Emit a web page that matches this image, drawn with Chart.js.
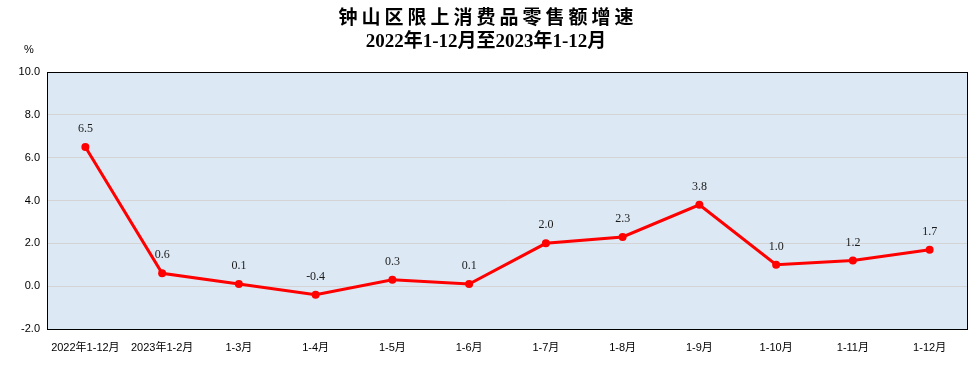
<!DOCTYPE html>
<html lang="zh">
<head>
    <meta charset="UTF-8">
    <title>钟山区限上消费品零售额增速</title>
    <script src="https://cdn.jsdelivr.net/npm/chart.js"></script>
    <style>
        html, body { margin: 0; padding: 0; background: #ffffff; }
        .chart-box { width: 972px; height: 365px; position: relative; }
    </style>
</head>
<body>
    <div class="chart-box">
        <canvas id="growthChart"></canvas>
    </div>

    <script>
        // data
        const periods = ['2022年1-12月', '2023年1-2月', '1-3月', '1-4月', '1-5月', '1-6月',
                         '1-7月', '1-8月', '1-9月', '1-10月', '1-11月', '1-12月'];
        const growthRate = [6.5, 0.6, 0.1, -0.4, 0.3, 0.1, 2.0, 2.3, 3.8, 1.0, 1.2, 1.7];
        const titleLines = ['钟山区限上消费品零售额增速', '2022年1-12月至2023年1-12月'];
        const yUnit = '%';

        const cjkSerif = '"Liberation Serif", "Noto Sans CJK SC", serif';
        const axisFont = '"Liberation Sans", "Noto Sans CJK SC", sans-serif';

        // background of the plot, title, unit, border and value labels
        const decorPlugin = {
            id: 'decor',
            beforeDraw(chart) {
                const { ctx, chartArea: a } = chart;
                ctx.save();
                ctx.fillStyle = '#dce8f4';
                ctx.fillRect(a.left, a.top, a.right - a.left, a.bottom - a.top);
                ctx.restore();
            },
            afterDraw(chart) {
                const { ctx, chartArea: a } = chart;
                ctx.save();
                ctx.strokeStyle = '#000';
                ctx.lineWidth = 1;
                ctx.strokeRect(a.left + 0.5, a.top + 0.5, a.right - a.left - 1, a.bottom - a.top);

                ctx.fillStyle = '#000';
                ctx.textAlign = 'center';
                ctx.textBaseline = 'middle';
                ctx.font = 'bold 19px ' + cjkSerif;
                ctx.letterSpacing = '4px';
                ctx.fillText(titleLines[0], 488, 19);
                ctx.letterSpacing = '0px';
                ctx.fillText(titleLines[1], 486, 42);

                ctx.font = '11px ' + axisFont;
                ctx.fillText(yUnit, 29, 50);

                // value labels
                const meta = chart.getDatasetMeta(0);
                ctx.font = '12px ' + cjkSerif;
                ctx.fillStyle = '#1a1a1a';
                meta.data.forEach((pt, i) => {
                    ctx.fillText(growthRate[i].toFixed(1), pt.x, pt.y - 18);
                });
                ctx.restore();
            }
        };

        new Chart(document.getElementById('growthChart'), {
            type: 'line',
            data: {
                labels: periods,
                datasets: [{
                    data: growthRate,
                    borderColor: '#ff0000',
                    backgroundColor: '#ff0000',
                    borderWidth: 3,
                    pointRadius: 4,
                    pointBackgroundColor: '#ff0000',
                    pointBorderWidth: 0,
                    tension: 0
                }]
            },
            options: {
                responsive: true,
                maintainAspectRatio: false,
                animation: false,
                layout: { padding: { top: 72, right: 3, left: 0, bottom: 0 } },
                plugins: {
                    legend: { display: false },
                    title: { display: false },
                    tooltip: { enabled: false }
                },
                scales: {
                    x: {
                        offset: true,
                        grid: { display: false },
                        border: { display: false },
                        ticks: {
                            color: '#000',
                            font: { family: axisFont, size: 11 },
                            maxRotation: 0,
                            autoSkip: false,
                            padding: 4
                        },
                        afterFit(scale) { scale.height = 36; }
                    },
                    y: {
                        min: -2,
                        max: 10,
                        grid: { color: '#d4d4d4', drawTicks: false },
                        border: { display: false },
                        ticks: {
                            stepSize: 2,
                            color: '#000',
                            font: { family: axisFont, size: 11 },
                            padding: 7,
                            callback: v => v.toFixed(1)
                        },
                        afterFit(scale) { scale.width = 47; }
                    }
                }
            },
            plugins: [decorPlugin]
        });
    </script>
</body>
</html>
